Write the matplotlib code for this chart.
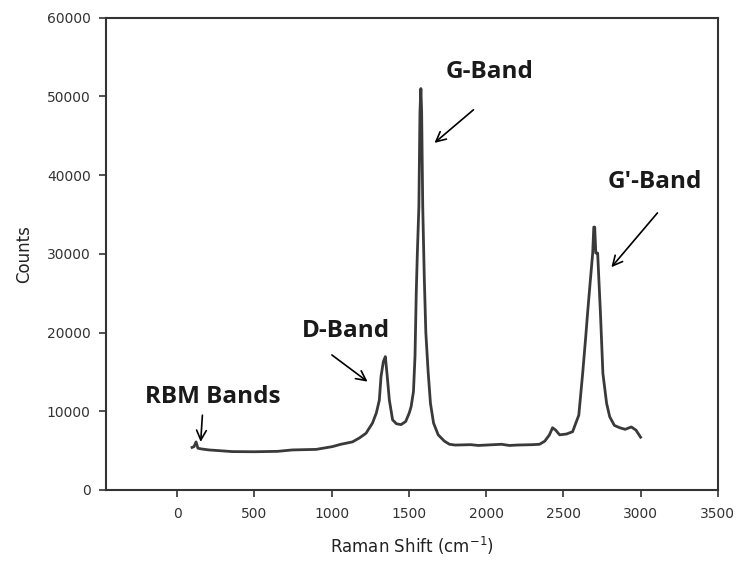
import matplotlib
matplotlib.use("Agg")
import matplotlib.pyplot as plt

# Raman spectrum (shift in cm^-1, counts)
shift = [97, 110, 123, 135, 160, 207, 300, 357, 500, 650, 746, 900, 1005, 1060,
         1135, 1180, 1223, 1265, 1290, 1309, 1320, 1335, 1348, 1360, 1374, 1395,
         1420, 1450, 1480, 1503, 1515, 1530, 1540, 1548, 1555, 1565, 1572, 1578,
         1583, 1590, 1600, 1610, 1625, 1640, 1660, 1690, 1730, 1763, 1800, 1900,
         1950, 2000, 2100, 2150, 2200, 2300, 2346, 2380, 2410, 2430, 2450, 2476,
         2520, 2560, 2600, 2625, 2645, 2657, 2675, 2690, 2697, 2703, 2710, 2722,
         2740, 2756, 2780, 2800, 2830, 2865, 2900, 2940, 2970, 3000]
counts = [5400, 5500, 6100, 5300, 5200, 5080, 4950, 4870, 4850, 4900, 5080, 5150,
          5500, 5800, 6100, 6600, 7200, 8500, 9800, 11400, 14400, 16300, 16940,
          14500, 11400, 8900, 8400, 8300, 8700, 9800, 10600, 12500, 17000, 25000,
          30000, 36000, 48000, 51000, 48000, 36000, 27000, 20000, 15000, 11000,
          8500, 7000, 6200, 5800, 5700, 5750, 5650, 5700, 5800, 5650, 5700, 5750,
          5800, 6200, 7000, 7900, 7600, 7000, 7100, 7400, 9500, 14800, 19500, 22500,
          26700, 30100, 33400, 33400, 30100, 30100, 22500, 14800, 11000, 9300, 8200,
          7900, 7700, 8000, 7600, 6700]

# band labels: text, text position, arrow tip
labels = ["RBM Bands", "D-Band", "G-Band", "G'-Band"]
label_xy = [(228, 11800), (1093, 20200), (2022, 53100), (3095, 39100)]
arrow_from = [(164, 9500), (1002, 17150), (1918, 48300), (3109, 35200)]
arrow_tip = [(153, 6100), (1233, 13760), (1666, 44100), (2811, 28300)]

fig = plt.figure(figsize=(7.39, 5.73), dpi=100)
ax = fig.add_axes([0.1434, 0.145, 0.828, 0.824])

ax.plot(shift, counts, color="#3a3a3a", lw=2)

ax.set_xlim(-460, 3500)
ax.set_ylim(0, 60000)
ax.set_xticks(range(0, 3501, 500))
ax.set_yticks(range(0, 60001, 10000))

tick_font = dict(family="DejaVu Sans", size=10, color="#333333")
ax.set_xticklabels([str(v) for v in range(0, 3501, 500)], **tick_font)
ax.set_yticklabels([str(v) for v in range(0, 60001, 10000)], **tick_font)
ax.tick_params(direction="out", length=5, width=1.2, color="#333333", pad=7)
ax.tick_params(axis="y", pad=6)
for s in ax.spines.values():
    s.set_color("#333333")
    s.set_linewidth(1.5)

ax.set_xlabel("Raman Shift (cm$^{-1}$)", family="DejaVu Sans", size=12,
              color="#222222", labelpad=10)
ax.set_ylabel("Counts", family="DejaVu Sans", size=12, color="#222222",
              labelpad=10)

for txt, pos in zip(labels, label_xy):
    ax.text(pos[0], pos[1], txt, ha="center", va="center", family="Open Sans",
            fontweight="bold", size=17.5, color="#1a1a1a")
for a, b in zip(arrow_from, arrow_tip):
    ax.annotate("", xy=b, xytext=a,
                arrowprops=dict(arrowstyle="->,head_length=0.7,head_width=0.35",
                                color="black", lw=1.2, shrinkA=0, shrinkB=0))

fig.savefig("out.png", dpi=100)
